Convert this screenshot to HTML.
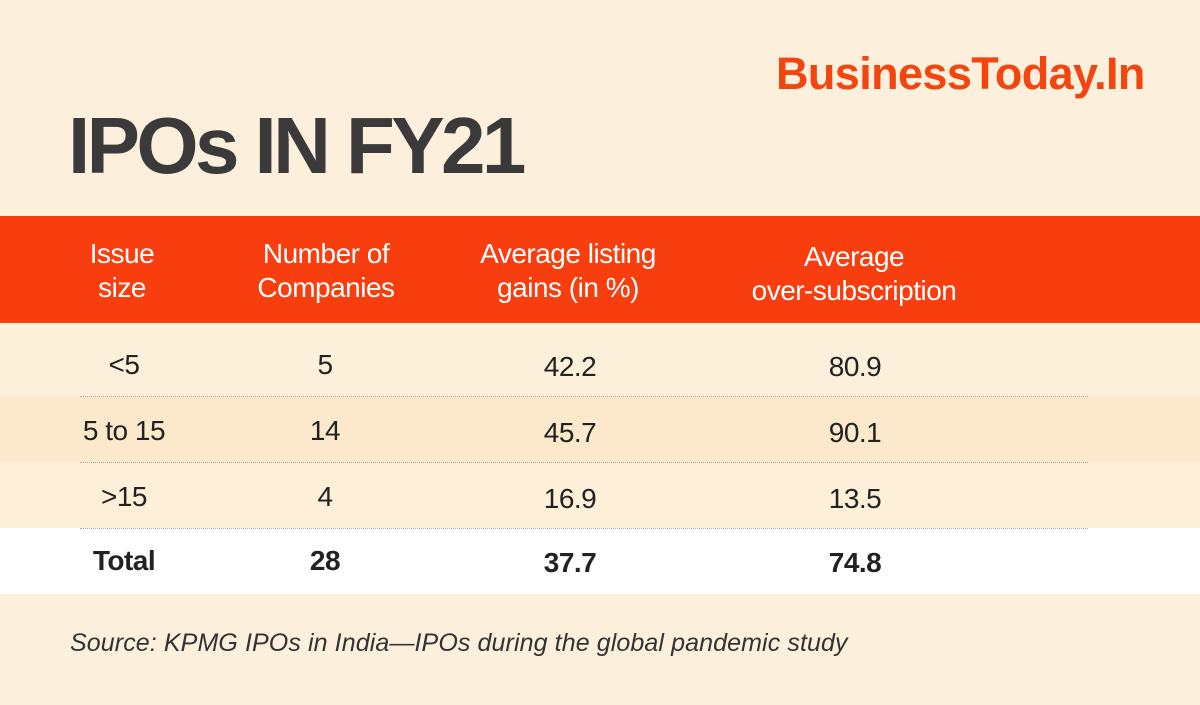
<!DOCTYPE html>
<html><head><meta charset="utf-8"><style>
body{margin:0;width:1200px;height:705px;background:#fcf0dc;font-family:"Liberation Sans",sans-serif;position:relative;overflow:hidden}
.a{position:absolute}
.logo{left:776px;top:48px;font-size:45px;font-weight:bold;color:#f2450f;letter-spacing:-0.6px}
.title{left:68px;top:100px;font-size:80px;font-weight:bold;color:#3a3a3a;letter-spacing:-3.6px}
.hdr{left:0;top:216px;width:1200px;height:107px;background:#f83e0e}
.h{color:#fff;font-size:28px;text-align:center;line-height:34px;top:237px;letter-spacing:-0.5px}
.row{left:0;width:1200px}
.c{font-size:28px;color:#222;text-align:center;width:200px;letter-spacing:-0.5px}
.dot{left:80px;width:1008px;height:0;border-top:1px dotted #b0a898}
.src{left:70px;top:629px;font-size:25px;font-style:italic;color:#333;letter-spacing:0.1px}
</style></head><body>
<div class="a logo">BusinessToday.In</div>
<div class="a title">IPOs IN FY21</div>
<div class="a hdr"></div>
<div class="a h" style="left:22px;width:200px">Issue<br>size</div>
<div class="a h" style="left:226px;width:200px">Number of<br>Companies</div>
<div class="a h" style="left:418px;width:300px">Average listing<br>gains (in %)</div>
<div class="a h" style="left:704px;width:300px;top:240px">Average<br>over-subscription</div>
<div class="a row" style="top:323px;height:74px;background:#fdf0da"></div>
<div class="a row" style="top:397px;height:65px;background:#fce9cc"></div>
<div class="a row" style="top:462px;height:66px;background:#fdefd8"></div>
<div class="a row" style="top:528px;height:66px;background:#fff"></div>
<div class="a dot" style="top:396px"></div>
<div class="a dot" style="top:462px"></div>
<div class="a dot" style="top:528px"></div>
<div id="cells"></div>
<div class="a src">Source: KPMG IPOs in India—IPOs during the global pandemic study</div>
<script>
const issueSizes=["<5","5 to 15",">15","Total"];
const companies=["5","14","4","28"];
const listingGains=["42.2","45.7","16.9","37.7"];
const overSub=["80.9","90.1","13.5","74.8"];
const rowTops=[349,415,481,545];
const colCenters=[124,325,570,855];
const cols=[issueSizes,companies,listingGains,overSub];
const names=["issue-size","companies","listing-gains","oversubscription"];
const box=document.getElementById('cells');
for(let r=0;r<4;r++){for(let c=0;c<4;c++){
 const d=document.createElement('div');
 d.className='a c';
 d.style.left=(colCenters[c]-100)+'px';
 d.style.top=(rowTops[r]+(c>=2?2:0))+'px';
 if(r===3)d.style.fontWeight='bold';
 d.textContent=cols[c][r];
 
 
 box.appendChild(d);
}}
</script>
</body></html>
